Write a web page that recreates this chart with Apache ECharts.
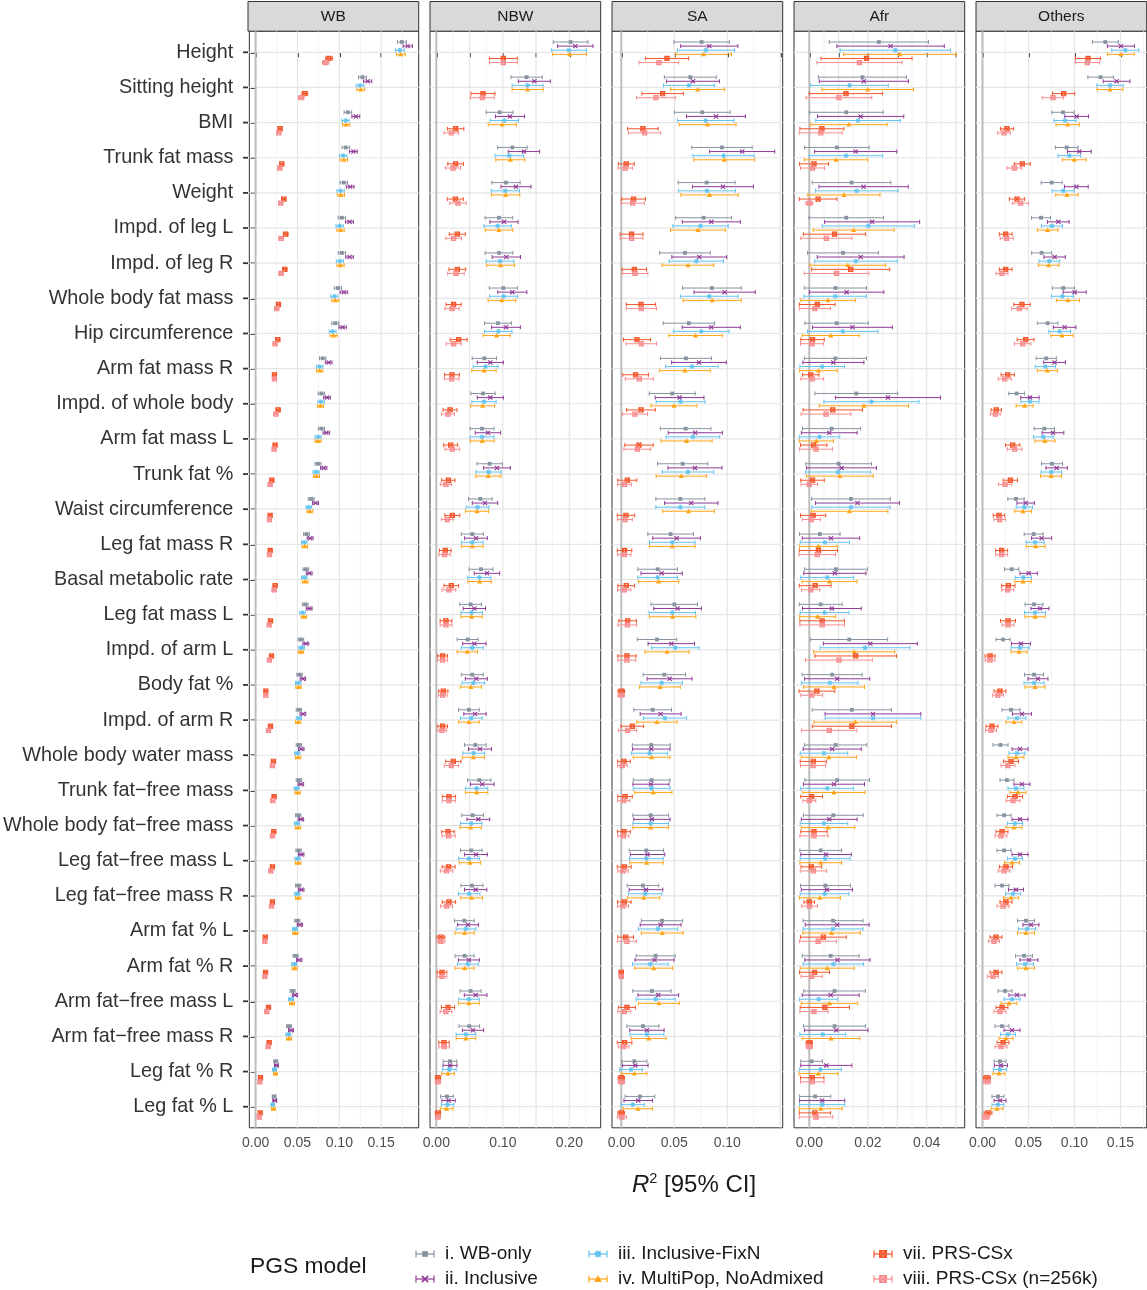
<!DOCTYPE html>
<html><head><meta charset="utf-8">
<script src="https://cdn.jsdelivr.net/npm/echarts@6/dist/echarts.min.js"></script>
<style>html,body{margin:0;padding:0;background:#fff}#c{width:1147px;height:1290px}</style>
</head><body><div id="c"></div>
<script>
const traits = ["Height","Sitting height","BMI","Trunk fat mass","Weight","Impd. of leg L","Impd. of leg R","Whole body fat mass","Hip circumference","Arm fat mass R","Impd. of whole body","Arm fat mass L","Trunk fat %","Waist circumference","Leg fat mass R","Basal metabolic rate","Leg fat mass L","Impd. of arm L","Body fat %","Impd. of arm R","Whole body water mass","Trunk fat\u2212free mass","Whole body fat\u2212free mass","Leg fat\u2212free mass L","Leg fat\u2212free mass R","Arm fat % L","Arm fat % R","Arm fat\u2212free mass L","Arm fat\u2212free mass R","Leg fat % R","Leg fat % L"];
const panelNames = ["WB","NBW","SA","Afr","Others"];
const modelNames = ["i. WB-only","ii. Inclusive","iii. Inclusive-FixN","iv. MultiPop, NoAdmixed","vii. PRS-CSx","viii. PRS-CSx (n=256k)"];

// ---- WB ----
const WB_wbonly_est = [.1746,.1276,.1102,.1078,.1054,.1031,.1031,.0983,.0952,.0802,.0786,.0786,.0746,.0664,.0608,.0600,.0592,.0541,.0525,.0517,.0517,.0517,.0509,.0513,.0509,.0498,.0478,.0442,.0399,.0241,.0221];
const WB_incl_est   = [.1817,.1339,.1197,.1169,.1130,.1122,.1122,.1055,.1039,.0873,.0853,.0845,.0814,.0715,.0652,.0640,.0640,.0600,.0565,.0565,.0545,.0541,.0541,.0545,.0545,.0529,.0521,.0470,.0423,.0249,.0229];
const WB_fixn_est   = [.1722,.1248,.1074,.1047,.1015,.1003,.1007,.0940,.0920,.0766,.0782,.0746,.0723,.0636,.0581,.0581,.0561,.0549,.0509,.0517,.0498,.0490,.0494,.0502,.0498,.0470,.0462,.0423,.0391,.0225,.0205];
const WB_multi_est  = [.1734,.1256,.1082,.1054,.1019,.1015,.1015,.0952,.0932,.0766,.0774,.0746,.0727,.0648,.0588,.0592,.0577,.0541,.0513,.0509,.0509,.0502,.0506,.0509,.0509,.0474,.0466,.0434,.0399,.0237,.0213];
const WB_csx_est    = [.0877,.0588,.0292,.0312,.0336,.0359,.0348,.0273,.0265,.0225,.0269,.0233,.0194,.0174,.0174,.0233,.0178,.0190,.0122,.0178,.0213,.0221,.0217,.0201,.0201,.0115,.0119,.0154,.0162,.0059,.0055];
const WB_csx256_est = [.0837,.0545,.0276,.0288,.0300,.0304,.0304,.0253,.0233,.0225,.0241,.0221,.0174,.0166,.0166,.0221,.0162,.0166,.0122,.0154,.0201,.0205,.0201,.0182,.0190,.0111,.0111,.0134,.0150,.0051,.0043];
const WB_wbonly_ci  = [.0053,.0047,.0045,.0045,.0044,.0044,.0044,.0043,.0042,.0038,.0038,.0037,.0036,.0035,.0034,.0034,.0034,.0033,.0032,.0032,.0032,.0032,.0032,.0032,.0032,.0031,.0031,.0030,.0029,.0023,.0022];
const WB_incl_ci    = [.0055,.0049,.0047,.0046,.0046,.0046,.0045,.0045,.0044,.0040,.0040,.0039,.0038,.0036,.0035,.0035,.0035,.0035,.0033,.0034,.0033,.0033,.0033,.0033,.0033,.0032,.0032,.0031,.0030,.0023,.0023];
const WB_fixn_ci    = [.0052,.0046,.0044,.0044,.0043,.0043,.0043,.0042,.0041,.0037,.0038,.0036,.0036,.0034,.0033,.0033,.0033,.0033,.0032,.0032,.0031,.0031,.0031,.0032,.0031,.0030,.0030,.0030,.0029,.0022,.0021];
const WB_multi_ci   = [.0053,.0047,.0044,.0044,.0043,.0043,.0043,.0042,.0042,.0037,.0037,.0036,.0036,.0035,.0033,.0034,.0033,.0033,.0032,.0032,.0032,.0031,.0032,.0032,.0032,.0030,.0030,.0030,.0029,.0023,.0022];
const WB_csx_ci     = [.0040,.0034,.0024,.0025,.0026,.0027,.0026,.0023,.0023,.0021,.0023,.0021,.0019,.0018,.0018,.0021,.0018,.0019,.0015,.0018,.0020,.0021,.0021,.0020,.0020,.0015,.0015,.0017,.0018,.0011,.0011];
const WB_csx256_ci  = [.0039,.0033,.0023,.0024,.0024,.0024,.0024,.0022,.0021,.0021,.0022,.0021,.0018,.0018,.0018,.0020,.0017,.0018,.0015,.0017,.0019,.0020,.0020,.0019,.0019,.0015,.0015,.0016,.0017,.0010,.0009];

// ---- NBW ----
const NBW_wbonly_est = [.2020,.1358,.0952,.1143,.1048,.0942,.0942,.1008,.0927,.0722,.0702,.0687,.0802,.0662,.0541,.0672,.0516,.0471,.0541,.0491,.0587,.0647,.0546,.0526,.0536,.0421,.0426,.0516,.0496,.0206,.0160];
const NBW_incl_est   = [.2090,.1474,.1108,.1318,.1198,.1018,.1053,.1143,.1048,.0812,.0812,.0777,.0912,.0732,.0597,.0762,.0572,.0572,.0602,.0582,.0657,.0692,.0632,.0597,.0592,.0476,.0491,.0592,.0552,.0206,.0185];
const NBW_fixn_est   = [.1995,.1373,.1023,.1098,.1038,.0922,.0957,.1013,.0932,.0742,.0717,.0687,.0787,.0622,.0541,.0647,.0532,.0541,.0556,.0526,.0562,.0607,.0526,.0491,.0496,.0446,.0476,.0491,.0446,.0196,.0170];
const NBW_multi_est  = [.2005,.1373,.0992,.1113,.1043,.0942,.0967,.0987,.0907,.0717,.0697,.0692,.0782,.0612,.0541,.0652,.0532,.0466,.0521,.0491,.0557,.0607,.0516,.0506,.0531,.0426,.0426,.0491,.0446,.0176,.0155];
const NBW_csx_est    = [.1008,.0702,.0291,.0291,.0286,.0316,.0316,.0261,.0336,.0236,.0206,.0216,.0181,.0241,.0135,.0226,.0145,.0095,.0105,.0095,.0256,.0190,.0176,.0185,.0190,.0070,.0085,.0176,.0115,.0025,.0025];
const NBW_csx256_est = [.1008,.0692,.0226,.0251,.0326,.0261,.0296,.0236,.0261,.0231,.0176,.0241,.0145,.0165,.0125,.0190,.0145,.0095,.0095,.0085,.0226,.0190,.0185,.0155,.0155,.0070,.0085,.0145,.0120,.0025,.0025];
const NBW_wbonly_ci  = [.0261,.0236,.0203,.0223,.0213,.0208,.0208,.0211,.0203,.0183,.0183,.0180,.0190,.0178,.0165,.0180,.0163,.0158,.0165,.0155,.0163,.0175,.0163,.0163,.0165,.0148,.0143,.0158,.0155,.0103,.0095];
const NBW_incl_ci    = [.0266,.0241,.0218,.0236,.0226,.0211,.0213,.0219,.0216,.0196,.0196,.0191,.0201,.0191,.0171,.0191,.0168,.0176,.0166,.0168,.0173,.0178,.0171,.0171,.0168,.0156,.0156,.0171,.0160,.0105,.0100];
const NBW_fixn_ci    = [.0261,.0233,.0213,.0216,.0213,.0206,.0208,.0211,.0206,.0186,.0183,.0180,.0190,.0171,.0163,.0175,.0161,.0166,.0168,.0163,.0163,.0166,.0161,.0156,.0161,.0148,.0155,.0155,.0148,.0103,.0095];
const NBW_multi_ci   = [.0256,.0233,.0211,.0218,.0213,.0208,.0208,.0208,.0203,.0183,.0180,.0178,.0188,.0173,.0163,.0175,.0161,.0153,.0160,.0155,.0166,.0168,.0161,.0161,.0163,.0145,.0143,.0155,.0148,.0095,.0095];
const NBW_csx_ci     = [.0210,.0180,.0123,.0118,.0120,.0120,.0125,.0113,.0128,.0110,.0105,.0105,.0100,.0113,.0088,.0110,.0088,.0075,.0070,.0073,.0115,.0100,.0095,.0098,.0100,.0060,.0073,.0098,.0078,.0040,.0040];
const NBW_csx256_ci  = [.0210,.0180,.0110,.0113,.0123,.0118,.0125,.0108,.0113,.0110,.0098,.0110,.0085,.0088,.0085,.0103,.0088,.0075,.0068,.0070,.0108,.0100,.0100,.0095,.0090,.0060,.0073,.0088,.0080,.0040,.0040];

// ---- SA ----
const SA_wbonly_est = [.0758,.0651,.0764,.0950,.0805,.0777,.0601,.0855,.0638,.0610,.0481,.0607,.0579,.0557,.0465,.0343,.0500,.0337,.0406,.0296,.0283,.0286,.0277,.0236,.0204,.0384,.0324,.0289,.0204,.0123,.0176];
const SA_incl_est   = [.0830,.0676,.0893,.1141,.0959,.0849,.0736,.0975,.0849,.0733,.0550,.0698,.0695,.0660,.0522,.0381,.0531,.0472,.0456,.0371,.0283,.0280,.0289,.0248,.0233,.0371,.0314,.0349,.0242,.0132,.0160];
const SA_fixn_est   = [.0799,.0638,.0796,.0965,.0808,.0748,.0708,.0830,.0755,.0667,.0560,.0676,.0629,.0557,.0481,.0343,.0481,.0509,.0381,.0412,.0267,.0286,.0277,.0236,.0226,.0346,.0274,.0324,.0242,.0091,.0107];
const SA_multi_est  = [.0777,.0720,.0814,.0972,.0833,.0723,.0629,.0858,.0701,.0601,.0497,.0616,.0566,.0635,.0481,.0352,.0484,.0431,.0365,.0336,.0286,.0302,.0277,.0239,.0211,.0387,.0305,.0355,.0258,.0123,.0157];
const SA_csx_est    = [.0431,.0390,.0204,.0047,.0116,.0097,.0123,.0186,.0148,.0135,.0186,.0167,.0057,.0044,.0031,.0047,.0060,.0053,.0000,.0104,.0025,.0035,.0025,.0028,.0028,.0041,.0000,.0053,.0031,.0000,.0000];
const SA_csx256_est = [.0355,.0327,.0220,.0038,.0107,.0097,.0129,.0189,.0189,.0170,.0129,.0151,.0031,.0035,.0028,.0028,.0057,.0053,.0000,.0060,.0009,.0022,.0019,.0016,.0016,.0053,.0000,.0028,.0022,.0000,.0006];
const SA_wbonly_ci  = [.0261,.0245,.0263,.0285,.0269,.0264,.0239,.0277,.0242,.0241,.0217,.0239,.0237,.0231,.0215,.0187,.0219,.0186,.0200,.0178,.0179,.0173,.0168,.0162,.0149,.0195,.0184,.0181,.0151,.0118,.0140];
const SA_incl_ci    = [.0270,.0250,.0278,.0307,.0288,.0274,.0259,.0289,.0274,.0258,.0230,.0255,.0255,.0252,.0225,.0195,.0225,.0219,.0212,.0193,.0176,.0170,.0171,.0162,.0159,.0193,.0184,.0192,.0162,.0121,.0135];
const SA_fixn_ci    = [.0270,.0240,.0267,.0289,.0269,.0261,.0256,.0272,.0263,.0248,.0231,.0253,.0242,.0231,.0215,.0187,.0219,.0223,.0195,.0204,.0170,.0173,.0168,.0159,.0157,.0186,.0168,.0184,.0160,.0107,.0110];
const SA_multi_ci   = [.0263,.0255,.0269,.0288,.0270,.0258,.0244,.0274,.0253,.0239,.0217,.0241,.0237,.0245,.0215,.0190,.0219,.0208,.0192,.0190,.0173,.0176,.0168,.0157,.0151,.0197,.0179,.0193,.0165,.0118,.0137];
const SA_csx_ci     = [.0204,.0195,.0145,.0075,.0112,.0108,.0115,.0138,.0127,.0121,.0135,.0134,.0090,.0082,.0068,.0079,.0083,.0086,.0031,.0107,.0060,.0069,.0061,.0066,.0064,.0074,.0020,.0080,.0069,.0030,.0031];
const SA_csx256_ci  = [.0187,.0182,.0153,.0069,.0110,.0108,.0121,.0143,.0143,.0132,.0119,.0127,.0066,.0069,.0063,.0063,.0088,.0083,.0031,.0086,.0047,.0057,.0053,.0050,.0052,.0090,.0020,.0061,.0050,.0030,.0042];

// ---- Afr ----
const Afr_wbonly_est = [.0237,.0181,.0126,.0094,.0144,.0126,.0115,.0089,.0093,.0089,.0160,.0076,.0100,.0142,.0036,.0091,.0039,.0136,.0078,.0145,.0090,.0095,.0082,.0039,.0055,.0081,.0073,.0086,.0086,.0008,.0020];
const Afr_incl_est   = [.0277,.0186,.0175,.0158,.0185,.0214,.0175,.0127,.0147,.0082,.0268,.0068,.0110,.0164,.0074,.0087,.0077,.0208,.0095,.0217,.0078,.0084,.0068,.0057,.0060,.0095,.0096,.0073,.0092,.0058,.0044];
const Afr_fixn_est   = [.0293,.0137,.0166,.0125,.0162,.0201,.0159,.0088,.0114,.0044,.0212,.0035,.0098,.0142,.0053,.0061,.0052,.0190,.0070,.0217,.0050,.0061,.0050,.0054,.0052,.0081,.0082,.0032,.0046,.0038,.0044];
const Afr_multi_est  = [.0309,.0199,.0135,.0091,.0118,.0151,.0131,.0064,.0073,.0031,.0186,.0024,.0104,.0137,.0031,.0069,.0028,.0153,.0084,.0157,.0067,.0084,.0064,.0039,.0036,.0076,.0061,.0069,.0074,.0031,.0039];
const Afr_csx_est    = [.0195,.0125,.0043,.0016,.0030,.0086,.0141,.0027,.0011,.0005,.0080,.0015,.0011,.0013,.0031,.0020,.0044,.0158,.0026,.0145,.0014,.0008,.0016,.0007,.0000,.0048,.0018,.0053,.0000,.0010,.0019];
const Afr_csx256_est = [.0171,.0101,.0039,.0011,.0000,.0058,.0093,.0019,.0009,.0010,.0057,.0023,.0000,.0007,.0027,.0005,.0044,.0101,.0008,.0068,.0013,.0000,.0016,.0014,.0001,.0030,.0008,.0016,.0000,.0010,.0023];
const Afr_wbonly_ci  = [.0169,.0150,.0126,.0110,.0134,.0127,.0121,.0106,.0108,.0106,.0141,.0099,.0112,.0134,.0069,.0107,.0073,.0131,.0102,.0135,.0106,.0110,.0102,.0071,.0085,.0102,.0097,.0105,.0106,.0037,.0053];
const Afr_incl_ci    = [.0183,.0152,.0147,.0140,.0152,.0162,.0148,.0127,.0136,.0104,.0179,.0095,.0119,.0143,.0098,.0106,.0100,.0160,.0111,.0163,.0099,.0104,.0095,.0086,.0087,.0109,.0111,.0097,.0108,.0087,.0077];
const Afr_fixn_ci    = [.0188,.0132,.0144,.0125,.0141,.0157,.0141,.0106,.0120,.0076,.0162,.0069,.0111,.0133,.0084,.0090,.0083,.0153,.0096,.0163,.0081,.0090,.0081,.0085,.0083,.0102,.0103,.0065,.0078,.0071,.0077];
const Afr_multi_ci   = [.0192,.0156,.0130,.0108,.0123,.0138,.0129,.0093,.0097,.0064,.0152,.0058,.0114,.0131,.0064,.0094,.0061,.0138,.0104,.0141,.0094,.0106,.0091,.0071,.0070,.0098,.0092,.0096,.0098,.0066,.0073];
const Afr_csx_ci     = [.0155,.0125,.0075,.0049,.0064,.0106,.0133,.0061,.0040,.0028,.0101,.0045,.0040,.0043,.0065,.0054,.0076,.0139,.0061,.0135,.0045,.0037,.0045,.0035,.0018,.0078,.0051,.0084,.0011,.0040,.0053];
const Afr_csx256_ci  = [.0145,.0112,.0073,.0041,.0012,.0087,.0110,.0053,.0039,.0039,.0085,.0056,.0028,.0031,.0062,.0031,.0076,.0114,.0037,.0094,.0043,.0022,.0048,.0045,.0027,.0063,.0036,.0048,.0011,.0040,.0057];

// ---- Others ----
const Oth_wbonly_est = [.1335,.1284,.0875,.0915,.0752,.0636,.0643,.0879,.0708,.0693,.0371,.0672,.0755,.0364,.0556,.0317,.0560,.0223,.0560,.0310,.0196,.0266,.0234,.0234,.0212,.0473,.0451,.0245,.0212,.0190,.0168];
const Oth_incl_est   = [.1505,.1458,.1023,.1053,.1020,.0824,.0784,.1002,.0893,.0784,.0516,.0766,.0806,.0469,.0643,.0502,.0625,.0418,.0603,.0429,.0408,.0429,.0408,.0408,.0364,.0527,.0505,.0375,.0321,.0201,.0190];
const Oth_fixn_est   = [.1552,.1386,.0897,.0944,.0878,.0755,.0726,.0868,.0839,.0683,.0516,.0661,.0748,.0455,.0571,.0444,.0571,.0408,.0560,.0375,.0375,.0364,.0353,.0353,.0332,.0484,.0462,.0321,.0277,.0190,.0168];
const Oth_multi_est  = [.1505,.1386,.0926,.0998,.0918,.0708,.0719,.0929,.0864,.0705,.0458,.0679,.0745,.0440,.0578,.0440,.0571,.0397,.0571,.0342,.0364,.0386,.0342,.0321,.0310,.0473,.0473,.0288,.0255,.0179,.0158];
const Oth_csx_est    = [.1147,.0882,.0266,.0433,.0375,.0252,.0252,.0429,.0469,.0274,.0150,.0328,.0303,.0179,.0208,.0281,.0277,.0082,.0190,.0103,.0310,.0353,.0212,.0255,.0255,.0147,.0147,.0212,.0223,.0049,.0060];
const Oth_csx256_est = [.1139,.0766,.0234,.0346,.0415,.0263,.0212,.0400,.0437,.0241,.0139,.0350,.0245,.0187,.0208,.0274,.0277,.0082,.0168,.0092,.0277,.0332,.0201,.0234,.0223,.0125,.0114,.0190,.0201,.0049,.0038];
const Oth_wbonly_ci  = [.0141,.0139,.0121,.0123,.0114,.0103,.0109,.0120,.0112,.0109,.0085,.0110,.0114,.0089,.0103,.0078,.0098,.0076,.0103,.0098,.0082,.0076,.0076,.0076,.0076,.0092,.0092,.0076,.0076,.0065,.0065];
const Oth_incl_ci    = [.0147,.0145,.0129,.0129,.0129,.0118,.0116,.0125,.0123,.0118,.0100,.0118,.0116,.0094,.0109,.0094,.0098,.0103,.0109,.0103,.0087,.0087,.0087,.0087,.0082,.0087,.0098,.0087,.0087,.0071,.0065];
const Oth_fixn_ci    = [.0147,.0143,.0120,.0123,.0120,.0114,.0112,.0120,.0118,.0110,.0098,.0107,.0112,.0089,.0098,.0089,.0114,.0098,.0109,.0098,.0087,.0087,.0082,.0082,.0082,.0092,.0092,.0087,.0082,.0071,.0065];
const Oth_multi_ci   = [.0145,.0141,.0127,.0129,.0121,.0112,.0112,.0125,.0120,.0109,.0092,.0110,.0114,.0091,.0103,.0089,.0109,.0087,.0109,.0087,.0087,.0087,.0087,.0082,.0082,.0092,.0092,.0087,.0076,.0065,.0065];
const Oth_csx_ci     = [.0136,.0121,.0071,.0087,.0083,.0069,.0069,.0089,.0092,.0072,.0056,.0078,.0078,.0062,.0065,.0072,.0082,.0054,.0065,.0065,.0082,.0082,.0065,.0071,.0065,.0065,.0065,.0065,.0065,.0038,.0043];
const Oth_csx256_ci  = [.0132,.0116,.0069,.0080,.0087,.0071,.0065,.0085,.0089,.0071,.0054,.0080,.0071,.0062,.0065,.0065,.0065,.0054,.0060,.0060,.0076,.0076,.0065,.0065,.0065,.0060,.0060,.0065,.0065,.0038,.0038];

const xTickValues  = [[0,.05,.10,.15],[0,.05,.10,.15,.20],[0,.05,.10,.15],[0,.01,.02,.03,.04,.05],[0,.05,.10,.15]];
const xLabelValues = [[0,.05,.10,.15],[0,.10,.20],[0,.05,.10],[0,.02,.04],[0,.05,.10,.15]];

const EST = [
  [WB_wbonly_est,WB_incl_est,WB_fixn_est,WB_multi_est,WB_csx_est,WB_csx256_est],
  [NBW_wbonly_est,NBW_incl_est,NBW_fixn_est,NBW_multi_est,NBW_csx_est,NBW_csx256_est],
  [SA_wbonly_est,SA_incl_est,SA_fixn_est,SA_multi_est,SA_csx_est,SA_csx256_est],
  [Afr_wbonly_est,Afr_incl_est,Afr_fixn_est,Afr_multi_est,Afr_csx_est,Afr_csx256_est],
  [Oth_wbonly_est,Oth_incl_est,Oth_fixn_est,Oth_multi_est,Oth_csx_est,Oth_csx256_est]];
const CI = [
  [WB_wbonly_ci,WB_incl_ci,WB_fixn_ci,WB_multi_ci,WB_csx_ci,WB_csx256_ci],
  [NBW_wbonly_ci,NBW_incl_ci,NBW_fixn_ci,NBW_multi_ci,NBW_csx_ci,NBW_csx256_ci],
  [SA_wbonly_ci,SA_incl_ci,SA_fixn_ci,SA_multi_ci,SA_csx_ci,SA_csx256_ci],
  [Afr_wbonly_ci,Afr_incl_ci,Afr_fixn_ci,Afr_multi_ci,Afr_csx_ci,Afr_csx256_ci],
  [Oth_wbonly_ci,Oth_incl_ci,Oth_fixn_ci,Oth_multi_ci,Oth_csx_ci,Oth_csx256_ci]];

// ---- layout / style ----
const FONT = "'Liberation Sans', Arial, Helvetica, sans-serif";
const colors = ['#8793a1','#8e3a94','#62c3f0','#ffa516','#f4552a','#f78b8d'];
const shapes = ['square','cross','asterisk','triangle','sqx','sqx'];
const panelLeft = [248,430,612,794,976];
const panelW = 170.7, panelTop = 31.2, panelH = 1096.6;
const xRanges = [[-0.00746,0.1948],[-0.00947,0.2472],[-0.00877,0.1523],[-0.00521,0.05295],[-0.00707,0.1785]];
const majorV = [[.05,.10,.15],[.05,.10,.15,.20],[.05,.10,.15],[.01,.02,.03,.04,.05],[.05,.10,.15]];
const minorV = [[.025,.075,.125,.175],[.025,.075,.125,.175,.225],[.025,.075,.125],[.005,.015,.025,.035,.045],[.025,.075,.125,.175]];
const DODGE = 0.117;

function marker(shape, x, y, color, s) {
  s = s || 1;
  const out = [];
  const st = {stroke: color, lineWidth: 1.1*s, fill: null};
  if (shape === 'square') {
    const h = 1.9*s;
    out.push({type:'rect', shape:{x:x-h,y:y-h,width:2*h,height:2*h}, style:{fill:color}});
  } else if (shape === 'cross') {
    const h = 2.1*s;
    out.push({type:'line', shape:{x1:x-h,y1:y-h,x2:x+h,y2:y+h}, style:st});
    out.push({type:'line', shape:{x1:x-h,y1:y+h,x2:x+h,y2:y-h}, style:st});
  } else if (shape === 'asterisk') {
    const h = 2.4*s, d = 1.75*s;
    out.push({type:'line', shape:{x1:x-h,y1:y,x2:x+h,y2:y}, style:st});
    out.push({type:'line', shape:{x1:x,y1:y-h,x2:x,y2:y+h}, style:st});
    out.push({type:'line', shape:{x1:x-d,y1:y-d,x2:x+d,y2:y+d}, style:st});
    out.push({type:'line', shape:{x1:x-d,y1:y+d,x2:x+d,y2:y-d}, style:st});
  } else if (shape === 'triangle') {
    const h = 2.6*s;
    out.push({type:'polygon', shape:{points:[[x,y-h],[x-h,y+h*0.75],[x+h,y+h*0.75]]}, style:{fill:color}});
  } else if (shape === 'sqx') {
    const h = 2.1*s;
    out.push({type:'rect', shape:{x:x-h,y:y-h,width:2*h,height:2*h}, style:st});
    out.push({type:'line', shape:{x1:x-h,y1:y-h,x2:x+h,y2:y+h}, style:st});
    out.push({type:'line', shape:{x1:x-h,y1:y+h,x2:x+h,y2:y-h}, style:st});
  }
  return out;
}

function makeRender(k) {
  const color = colors[k], shape = shapes[k];
  return function (params, api) {
    const est = api.value(0), row = api.value(1), lo = api.value(2), hi = api.value(3);
    const unit = Math.abs(api.size([0, 1])[1]);
    const c = api.coord([est, row]);
    const y = c[1] + (k - 2.5) * DODGE * unit;
    const xl = api.coord([lo, row])[0], xh = api.coord([hi, row])[0];
    const ch = 2.0;
    const ls = {stroke: color, lineWidth: 1};
    const children = [
      {type:'line', shape:{x1:xl,y1:y,x2:xh,y2:y}, style:ls},
      {type:'line', shape:{x1:xl,y1:y-ch,x2:xl,y2:y+ch}, style:ls},
      {type:'line', shape:{x1:xh,y1:y-ch,x2:xh,y2:y+ch}, style:ls}
    ].concat(marker(shape, c[0], y, color, 1));
    return {type:'group', children: children};
  };
}

function makeBg(p) {
  return function (params, api) {
    const cs = params.coordSys;
    const ch = [];
    minorV[p].forEach(function (v) {
      const x = api.coord([v, 0])[0];
      ch.push({type:'line', shape:{x1:x,y1:cs.y,x2:x,y2:cs.y+cs.height}, style:{stroke:'#f0f0f0', lineWidth:0.8}});
    });
    majorV[p].forEach(function (v) {
      const x = api.coord([v, 0])[0];
      ch.push({type:'line', shape:{x1:x,y1:cs.y,x2:x,y2:cs.y+cs.height}, style:{stroke:'#e6e6e6', lineWidth:1.2}});
    });
    for (let r = 0; r < traits.length; r++) {
      const y = api.coord([0, r])[1];
      ch.push({type:'line', shape:{x1:cs.x,y1:y,x2:cs.x+cs.width,y2:y}, style:{stroke:'#e6e6e6', lineWidth:1.2}});
    }
    const x0 = api.coord([0, 0])[0];
    ch.push({type:'line', shape:{x1:x0,y1:cs.y,x2:x0,y2:cs.y+cs.height}, style:{stroke:'#bdbdbd', lineWidth:2}});
    return {type:'group', children: ch, silent: true};
  };
}

const grids = [], xAxes = [], yAxes = [], series = [], graphics = [];
const rowIdx = traits.map(function (_, i) { return i; });

for (let p = 0; p < 5; p++) {
  grids.push({left: panelLeft[p], top: panelTop, width: panelW, height: panelH,
              show: true, borderColor: '#333333', borderWidth: 1, backgroundColor: '#ffffff'});
  xAxes.push({
    type:'value', gridIndex:p, min:xRanges[p][0], max:xRanges[p][1],
    axisLine:{show:false}, splitLine:{show:false},
    axisTick:{show:true, customValues:xTickValues[p], length:5, lineStyle:{color:'#333333', width:1.8}},
    axisLabel:{show:true, customValues:xLabelValues[p], margin:8, fontSize:14, color:'#4d4d4d', fontFamily:FONT,
               formatter:function (v) { return Number(v).toFixed(2); }}
  });
  yAxes.push({
    type:'value', gridIndex:p, min:-0.6, max:30.6, inverse:true,
    axisLine:{show:false}, splitLine:{show:false},
    axisTick:{show:p===0, customValues:rowIdx, length:5, lineStyle:{color:'#333333', width:1.8}},
    axisLabel:{show:p===0, customValues:rowIdx, margin:16, fontSize:19.8, color:'#333333', fontFamily:FONT,
               formatter:function (v) { return traits[Math.round(v)]; }}
  });
  series.push({type:'custom', name:'bg'+p, xAxisIndex:p, yAxisIndex:p, z:1, silent:true,
               renderItem: makeBg(p), data:[[0,0]], encode:{x:0, y:1}});
  for (let k = 0; k < 6; k++) {
    const est = EST[p][k], ci = CI[p][k];
    const data = est.map(function (e, r) { return [e, r, e - ci[r], e + ci[r]]; });
    series.push({type:'custom', name:modelNames[k], xAxisIndex:p, yAxisIndex:p, z:2+k,
                 itemStyle:{color:colors[k]}, renderItem: makeRender(k), data:data,
                 encode:{x:[0,2,3], y:1}});
  }
  graphics.push({type:'rect', shape:{x:panelLeft[p], y:1.5, width:panelW, height:panelTop-1.5},
                 style:{fill:'#d9d9d9', stroke:'#333333', lineWidth:1}});
  graphics.push({type:'text', x:panelLeft[p]+panelW/2, y:16.5,
                 style:{text:panelNames[p], fontSize:15.5, fill:'#1a1a1a', fontFamily:FONT, align:'center', verticalAlign:'middle'}});
}

// y-axis tick marks of the first panel (axis decoration at the category positions)
const rowStep = panelH / 31.2;
for (let r = 0; r < traits.length; r++) {
  const yy = panelTop + (r + 0.6) * rowStep;
  graphics.push({type:'line', silent:true, shape:{x1:panelLeft[0]-5, y1:yy, x2:panelLeft[0], y2:yy},
                 style:{stroke:'#333333', lineWidth:1.8}});
}

graphics.push({type:'text', x:694, y:1185, style:{
  text:'{i|R}{s|2}{n| [95% CI]}', align:'center', verticalAlign:'middle', fontFamily:FONT,
  rich:{i:{fontStyle:'italic', fontSize:24, fill:'#1a1a1a', fontFamily:FONT, lineHeight:27},
        s:{fontSize:14.5, fill:'#1a1a1a', fontFamily:FONT, verticalAlign:'top', lineHeight:14},
        n:{fontSize:24, fill:'#1a1a1a', fontFamily:FONT, lineHeight:27}}}});

graphics.push({type:'text', x:250, y:1267, style:{text:'PGS model', fontSize:22.8, fill:'#1a1a1a', fontFamily:FONT, align:'left', verticalAlign:'middle'}});
const legKeyX = [425, 425, 598, 598, 883, 883];
const legY = [1254, 1279, 1254, 1279, 1254, 1279];
for (let k = 0; k < 6; k++) {
  const cx = legKeyX[k], cy = legY[k], col = colors[k];
  const ls = {stroke: col, lineWidth: 1.2};
  const ch = [
    {type:'line', shape:{x1:cx-9,y1:cy,x2:cx+9,y2:cy}, style:ls},
    {type:'line', shape:{x1:cx-9,y1:cy-3.5,x2:cx-9,y2:cy+3.5}, style:ls},
    {type:'line', shape:{x1:cx+9,y1:cy-3.5,x2:cx+9,y2:cy+3.5}, style:ls}
  ].concat(marker(shapes[k], cx, cy, col, 1.5));
  graphics.push({type:'group', children: ch});
  graphics.push({type:'text', x:cx+20, y:cy, style:{text:modelNames[k], fontSize:19, fill:'#1a1a1a', fontFamily:FONT, align:'left', verticalAlign:'middle'}});
}

const chart = echarts.init(document.getElementById('c'), null, {renderer:'canvas'});
chart.setOption({
  animation:false,
  backgroundColor:'#ffffff',
  textStyle:{fontFamily:FONT},
  grid:grids, xAxis:xAxes, yAxis:yAxes, series:series,
  graphic:{elements:graphics}
});
</script></body></html>
